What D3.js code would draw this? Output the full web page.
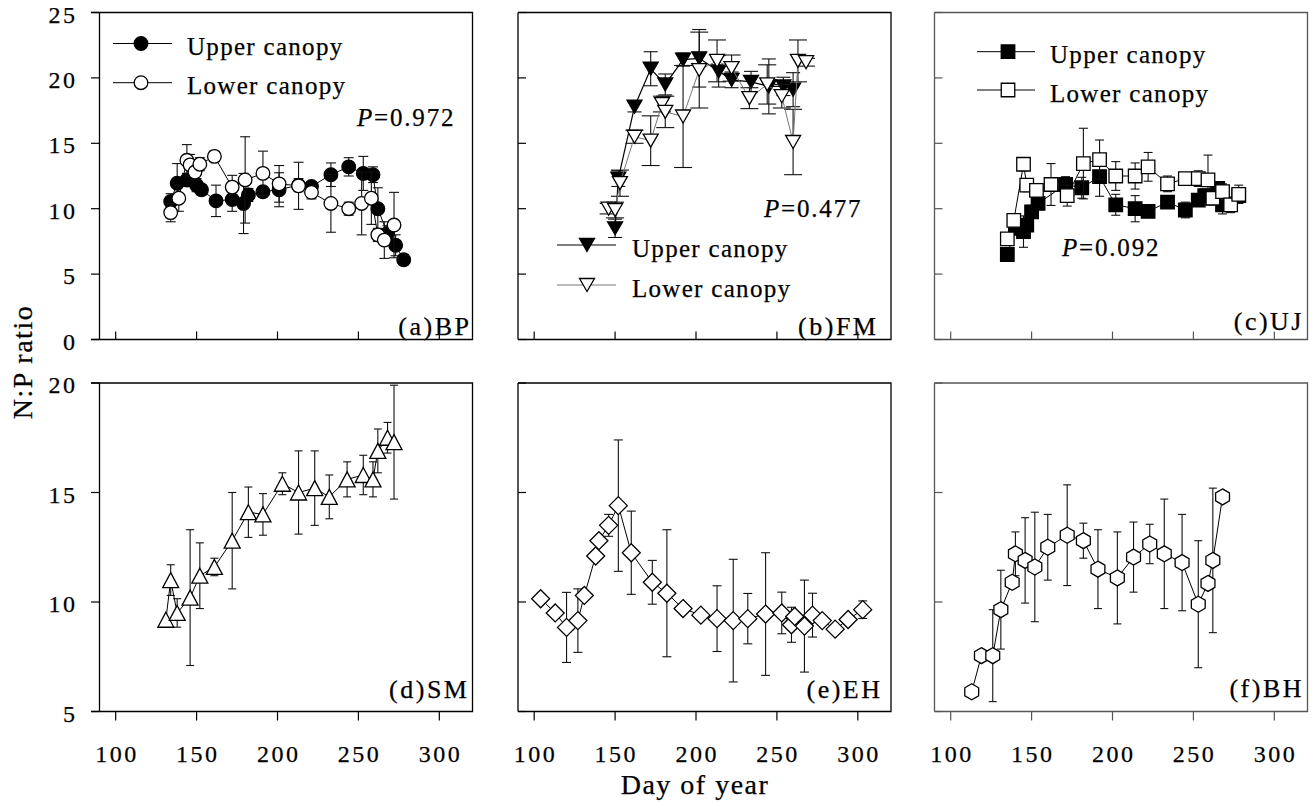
<!DOCTYPE html>
<html lang="en">
<head>
<meta charset="UTF-8">
<title>N:P ratio by day of year</title>
<style>
  body { margin: 0; background: #fff; }
  svg text { font-family: "Liberation Serif", "Times New Roman", serif; fill: #000; stroke: #000; stroke-width: 0.25px; }
  .tick-label { font-size: 24px; letter-spacing: 2.5px; }
  .legend-text { font-size: 25px; letter-spacing: 1.3px; }
  .p-text { font-size: 25px; letter-spacing: 1.8px; }
  .panel-label { font-size: 26px; letter-spacing: 2.5px; }
  .axis-title { font-size: 28px; letter-spacing: 1.5px; }
</style>
</head>
<body>
<svg id="chart" width="1313" height="802"></svg>
<script src="https://d3js.org/d3.v7.min.js"></script>
<script>
// each point: [day of year, N:P ratio, error]
const bpUpper = [
  [134, 10.55, 0.6], [138, 11.95, 1.5], [144, 12.2, 0.5], [150, 11.8, 0.5], [153, 11.45, 0.4],
  [162, 10.6, 1.2], [172, 10.7, 0.9], [179, 10.4, 2.3], [182, 11.05, 0.5], [191, 11.3, 0.4],
  [201, 11.45, 1.3], [213, 11.8, 0.5], [221, 11.7, 0.3], [233, 12.6, 0.9], [244, 13.2, 0.7],
  [253, 12.7, 1.3], [259, 12.6, 0.6], [262, 10.0, 1.6], [268, 8.1, 0.6], [273, 7.2, 0.8],
  [278, 6.1, 0.4]
];
const bpLower = [
  [134, 9.7, 0.7], [139, 10.8, 1.0], [144, 13.7, 1.2], [146, 13.35, 0.8], [149, 12.8, 0.6],
  [152, 13.4, 0.5], [161, 14.0, 0.4], [172, 11.65, 0.9], [180, 12.2, 3.3], [191, 12.7, 1.7],
  [201, 11.9, 1.4], [213, 11.75, 1.8], [221, 11.25, 0.5], [233, 10.4, 2.2], [244, 10.0, 0.5],
  [252, 10.4, 2.4], [258, 10.8, 2.0], [262, 8.0, 0.5], [266, 7.6, 1.4], [272, 8.75, 2.5]
];
const fmUpper = [
  [150, 8.5, 0.7], [152, 12.3, 0.6], [162, 17.8, 0.4], [172, 20.7, 1.3], [181, 19.5, 0.8],
  [192, 21.4, 0.5], [202, 21.5, 2.2], [214, 20.5, 1.2], [222, 19.85, 0.6], [234, 19.7, 0.8],
  [245, 19.35, 2.1], [254, 19.35, 0.7], [260, 19.1, 1.3]
];
const fmLower = [
  [146, 10.0, 0.4], [150, 9.9, 0.6], [153, 11.95, 1.0], [162, 15.5, 0.5], [172, 15.2, 1.9],
  [179, 18.0, 0.6], [181, 17.4, 1.2], [192, 17.05, 3.9], [202, 20.6, 2.9], [213, 21.3, 1.6],
  [222, 20.75, 1.0], [233, 18.45, 0.8], [244, 19.5, 1.5], [253, 18.6, 0.9], [260, 15.1, 2.5],
  [263, 21.3, 1.6], [268, 21.2, 0.3]
];
const ujUpper = [
  [135, 6.5, 0.3], [140, 8.5, 0.4], [145, 8.25, 1.2], [147, 8.75, 0.5], [150, 9.76, 0.5],
  [154, 10.4, 0.4], [171, 11.85, 0.6], [181, 11.6, 0.8], [192, 12.45, 1.5], [202, 10.3, 0.8],
  [214, 10.0, 1.0], [222, 9.8, 0.3], [234, 10.5, 0.4], [245, 9.9, 0.6], [253, 10.65, 0.4],
  [257, 11.0, 0.5], [265, 11.55, 0.5], [268, 10.3, 0.7], [278, 11.0, 0.6]
];
const ujLower = [
  [135, 7.7, 0.3], [139, 9.1, 0.4], [145, 13.4, 0.5], [147, 11.8, 0.5], [153, 11.4, 0.4],
  [162, 11.85, 1.6], [172, 11.0, 0.8], [182, 13.45, 2.7], [192, 13.75, 1.5], [202, 12.5, 1.1],
  [214, 12.5, 1.0], [222, 13.2, 1.1], [234, 11.9, 0.6], [245, 12.3, 0.4], [253, 12.3, 0.6],
  [259, 12.2, 1.9], [262, 10.8, 0.5], [268, 11.3, 0.6], [273, 10.3, 0.6], [278, 11.1, 0.7]
];
const smData = [
  [131, 9.19, 0], [134, 11.0, 0.7], [138, 9.5, 0.65], [146, 10.2, 3.1], [152, 11.2, 1.5],
  [161, 11.6, 0.4], [172, 12.8, 2.2], [182, 14.1, 1.15], [191, 14.0, 0.95], [203, 15.4, 0.5],
  [213, 15.0, 1.9], [223, 15.2, 1.7], [232, 14.8, 1.0], [243, 15.6, 0.8], [253, 15.8, 0.9],
  [259, 15.6, 0.8], [262, 16.9, 1.0], [268, 17.5, 0.7], [272, 17.3, 2.6]
];
const ehData = [
  [104, 10.15, 0], [113, 9.5, 0], [120, 8.84, 1.6], [127, 9.15, 1.45], [131, 10.3, 0],
  [138, 12.1, 0], [140, 12.8, 0], [146, 13.5, 0.5], [152, 14.4, 3.0], [160, 12.25, 1.9],
  [173, 10.9, 1.0], [182, 10.4, 2.9], [192, 9.7, 0], [203, 9.4, 0], [213, 9.24, 1.5],
  [223, 9.15, 2.8], [232, 9.24, 1.15], [243, 9.45, 2.8], [253, 9.5, 0.95], [259, 8.96, 0.8],
  [261, 9.34, 0.2], [267, 8.9, 2.1], [272, 9.4, 1.0], [278, 9.15, 0], [286, 8.76, 0],
  [294, 9.2, 0.2], [303, 9.65, 0.4]
];
const bhData = [
  [113, 5.9, 0], [119, 7.55, 0], [126, 7.55, 2.1], [131, 9.65, 1.8], [138, 10.9, 0],
  [140, 12.2, 1.0], [146, 11.9, 1.95], [152, 11.6, 2.5], [160, 12.5, 1.5], [172, 13.05, 2.3],
  [182, 12.8, 0.8], [191, 11.5, 1.8], [203, 11.1, 2.1], [213, 12.05, 1.6], [223, 12.65, 0.9],
  [232, 12.2, 2.5], [243, 11.8, 2.2], [253, 9.9, 2.9], [259, 10.85, 0], [262, 11.9, 3.3],
  [268, 14.8, 0]
];

const xTicks = [100, 150, 200, 250, 300];
const topYTicks = [0, 5, 10, 15, 20, 25];
const bottomYTicks = [5, 10, 15, 20];
const seriesNames = ['Upper canopy', 'Lower canopy'];
const pValues = ['0.972', '0.477', '0.092'];
const panelNames = ['(a)BP', '(b)FM', '(c)UJ', '(d)SM', '(e)EH', '(f)BH'];

// layout
const colX = [99.5, 518, 934.5];
const panelW = 373;
const rowY = [[12.5, 339.5], [383, 711.5]];
const xDomain = [90, 320.5];

// marker shapes
function hexPath(r) {
  const pts = d3.range(6).map(i => {
    const a = -Math.PI / 2 + i * Math.PI / 3;
    return [r * Math.cos(a), r * Math.sin(a)];
  });
  return d3.line()(pts) + 'Z';
}
const shapes = {
  circle: d3.symbol(d3.symbolCircle, Math.PI * 6.8 * 6.8)(),
  square: d3.symbol(d3.symbolSquare, 13.5 * 13.5)(),
  triDown: 'M-7.5,-6.5L7.5,-6.5L0,6.5Z',
  triUp: 'M0,-7.5L8,7.5L-8,7.5Z',
  diamond: 'M0,-9L9,0L0,9L-9,0Z',
  hexagon: hexPath(8)
};

const panels = [
  { row: 0, col: 0, name: panelNames[0], labelDy: -5, frame: '#000',
    series: [
      { data: bpUpper, shape: 'circle', fill: '#000', line: '#000', lw: 1, cap: 10 },
      { data: bpLower, shape: 'circle', fill: '#fff', line: '#000', lw: 1, cap: 10 }
    ],
    legend: { x1: 13.5, x2: 72.5, mx: 41.5, tx: 87.5, ys: [31, 70.2] },
    p: { text: pValues[0], x: 357, y: 126 } },
  { row: 0, col: 1, name: panelNames[1], labelDy: -5, labelInset: 15, frame: '#000',
    series: [
      { data: fmUpper, shape: 'triDown', fill: '#000', line: '#000', lw: 1.2, cap: 14 },
      { data: fmLower, shape: 'triDown', fill: '#fff', line: '#777', lw: 1, cap: 18 }
    ],
    legend: { x1: 39, x2: 98, mx: 69, tx: 114, ys: [232.5, 272.5] },
    p: { text: pValues[1], x: 764, y: 217 } },
  { row: 0, col: 2, name: panelNames[2], labelDy: -9.5, labelInset: 6, frame: '#555',
    series: [
      { data: ujUpper, shape: 'square', fill: '#000', line: '#000', lw: 1, cap: 9 },
      { data: ujLower, shape: 'square', fill: '#fff', line: '#000', lw: 1, cap: 9 }
    ],
    legend: { x1: 42.5, x2: 100.5, mx: 73.5, tx: 115.5, ys: [39.2, 77.5] },
    p: { text: pValues[2], x: 1062, y: 255.5 } },
  { row: 1, col: 0, name: panelNames[3], labelDy: -13.5, labelInset: 5.5, frame: '#000',
    series: [{ data: smData, shape: 'triUp', fill: '#fff', line: '#000', lw: 1, cap: 8 }] },
  { row: 1, col: 1, name: panelNames[4], labelDy: -13.5, labelInset: 11, frame: '#000',
    series: [{ data: ehData, shape: 'diamond', fill: '#fff', line: '#000', lw: 1, cap: 9 }] },
  { row: 1, col: 2, name: panelNames[5], labelDy: -14.5, labelInset: 6, frame: '#555',
    series: [{ data: bhData, shape: 'hexagon', fill: '#fff', line: '#000', lw: 1, cap: 8 }] }
];

const svg = d3.select('#chart');

panels.forEach(p => {
  const x0 = colX[p.col], x1 = x0 + panelW;
  const [y0, y1] = rowY[p.row];
  const x = d3.scaleLinear().domain(xDomain).range([x0, x1]);
  const y = d3.scaleLinear().domain(p.row === 0 ? [0, 25] : [5, 20]).range([y1, y0]);
  const yTicks = p.row === 0 ? topYTicks : bottomYTicks;
  const g = svg.append('g');

  // frame (first column: top/bottom lines run out to the outer tick ends)
  const ext = p.col === 0 ? 8.5 : 0;
  g.append('path')
    .attr('d', `M${x0 - ext},${y0}H${x1}V${y1}H${x0 - ext}M${x0},${y0}V${y1}`)
    .attr('fill', 'none').attr('stroke', p.frame).attr('stroke-width', 1.3);

  // y ticks: outward in first column, inward elsewhere
  const yt = p.col === 0 ? -8.5 : 8;
  g.selectAll('.yt').data(yTicks).enter().append('line')
    .attr('x1', x0).attr('x2', x0 + yt)
    .attr('y1', d => y(d)).attr('y2', d => y(d))
    .attr('stroke', p.frame).attr('stroke-width', 1.2);
  if (p.col === 0) {
    g.selectAll('.yl').data(yTicks).enter().append('text')
      .attr('class', 'tick-label')
      .attr('x', 77.5).attr('y', d => y(d) + 2)
      .attr('text-anchor', 'end').attr('dominant-baseline', 'central')
      .text(d => d);
  }

  // x ticks: inward for top row, outward + labels for bottom row
  const xt = p.row === 0 ? -8 : 9;
  g.selectAll('.xt').data(xTicks).enter().append('line')
    .attr('x1', d => x(d)).attr('x2', d => x(d))
    .attr('y1', y1).attr('y2', y1 + xt)
    .attr('stroke', p.frame).attr('stroke-width', 1.2);
  if (p.row === 1) {
    g.selectAll('.xl').data(xTicks).enter().append('text')
      .attr('class', 'tick-label')
      .attr('x', d => x(d) + 1.2).attr('y', 762)
      .attr('text-anchor', 'middle')
      .text(d => d);
  }

  // series: error bars, connecting line, markers
  p.series.forEach(s => {
    const eb = g.append('g').attr('stroke', '#111').attr('stroke-width', 1.1);
    s.data.filter(d => d[2] > 0).forEach(d => {
      const cx = x(d[0]), top = y(d[1] + d[2]), bot = y(d[1] - d[2]);
      eb.append('line').attr('x1', cx).attr('x2', cx).attr('y1', top).attr('y2', bot);
      eb.append('line').attr('x1', cx - s.cap / 2).attr('x2', cx + s.cap / 2).attr('y1', top).attr('y2', top);
      eb.append('line').attr('x1', cx - s.cap / 2).attr('x2', cx + s.cap / 2).attr('y1', bot).attr('y2', bot);
    });
    g.append('path')
      .attr('d', d3.line().x(d => x(d[0])).y(d => y(d[1]))(s.data))
      .attr('fill', 'none').attr('stroke', s.line).attr('stroke-width', s.lw);
    g.selectAll(null).data(s.data).enter().append('path')
      .attr('d', shapes[s.shape])
      .attr('transform', d => `translate(${x(d[0])},${y(d[1])})`)
      .attr('fill', s.fill).attr('stroke', '#000').attr('stroke-width', 1.3);
  });

  // legend
  if (p.legend) {
    p.series.forEach((s, i) => {
      const ly = y0 + p.legend.ys[i];
      g.append('line')
        .attr('x1', x0 + p.legend.x1).attr('x2', x0 + p.legend.x2)
        .attr('y1', ly).attr('y2', ly)
        .attr('stroke', s.line).attr('stroke-width', s.lw);
      g.append('path')
        .attr('d', shapes[s.shape])
        .attr('transform', `translate(${x0 + p.legend.mx},${ly})`)
        .attr('fill', s.fill).attr('stroke', '#000').attr('stroke-width', 1.3);
      g.append('text')
        .attr('class', 'legend-text')
        .attr('x', x0 + p.legend.tx).attr('y', ly + 11.5)
        .text(seriesNames[i]);
    });
  }

  // P value
  if (p.p) {
    const t = g.append('text').attr('class', 'p-text').attr('x', p.p.x).attr('y', p.p.y);
    t.append('tspan').attr('font-style', 'italic').text('P');
    t.append('tspan').text('=' + p.p.text);
  }

  // panel label
  g.append('text')
    .attr('class', 'panel-label')
    .attr('x', x1 - (p.labelInset || 3.5) + 2.5).attr('y', y1 + p.labelDy)
    .attr('text-anchor', 'end')
    .text(p.name);
});

// axis titles
svg.append('text')
  .attr('class', 'axis-title')
  .attr('transform', 'translate(22,362) rotate(-90)')
  .attr('text-anchor', 'middle').attr('dominant-baseline', 'central')
  .text('N:P ratio');

svg.append('text')
  .attr('class', 'axis-title')
  .attr('x', 695).attr('y', 794)
  .attr('text-anchor', 'middle')
  .text('Day of year');
</script>
</body>
</html>
